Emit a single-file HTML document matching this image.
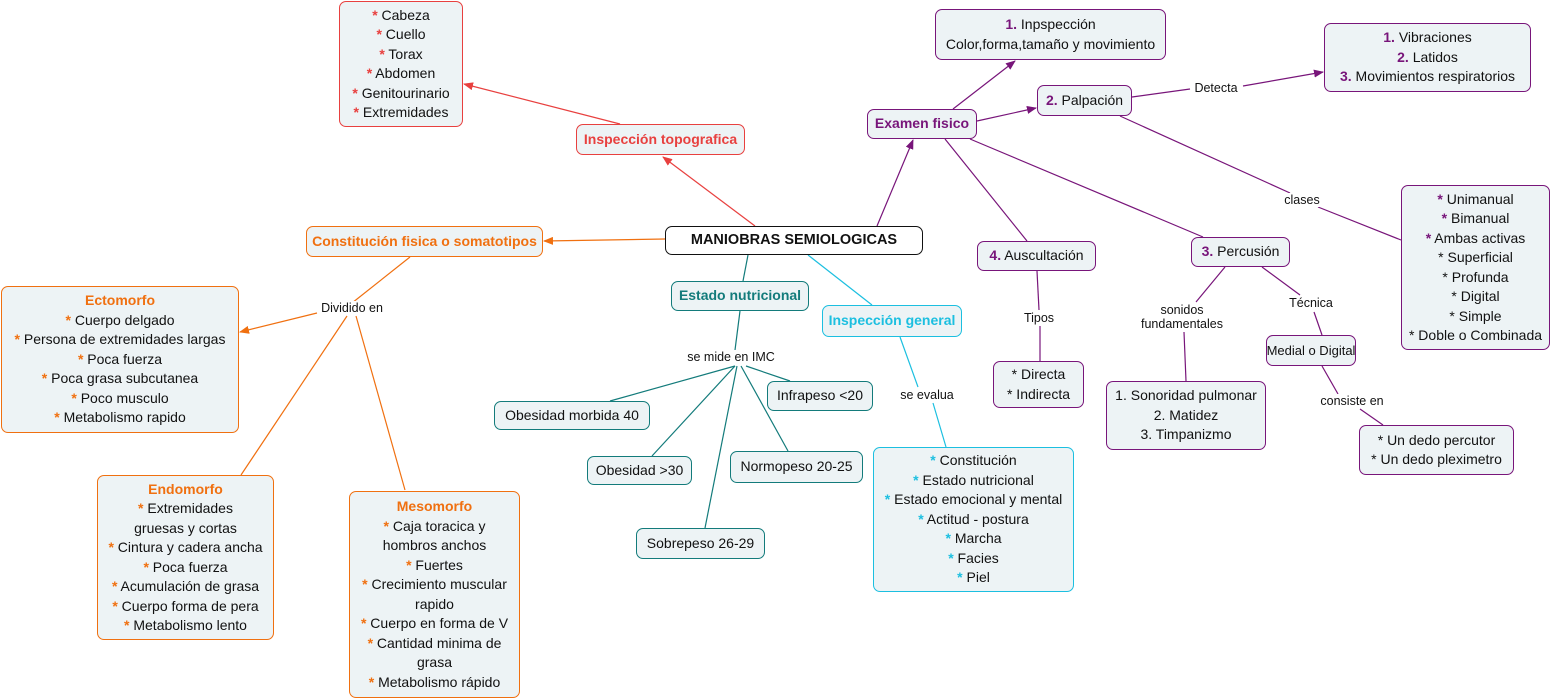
<!DOCTYPE html>
<html><head><meta charset="utf-8"><style>
body{margin:0;width:1552px;height:700px;background:#fff;position:relative;overflow:hidden;font-family:"Liberation Sans",sans-serif;font-size:14px;color:#111}
.n{position:absolute;box-sizing:border-box;background:#edf3f5;border:1px solid;border-radius:7px;display:flex;flex-direction:column;justify-content:center;align-items:center;text-align:center;line-height:19.5px;white-space:nowrap}
.r{border-color:#e8403f}.o{border-color:#f07010}.t{border-color:#137b7b}.c{border-color:#1cbfe0}.p{border-color:#78157a}
.b{font-weight:bold}
.rs{color:#e8403f;font-weight:bold}.os{color:#f07010;font-weight:bold}.cs{color:#1cbfe0;font-weight:bold}.ps{color:#78157a;font-weight:bold}
.l{position:absolute;font-size:12.5px;background:#fff;line-height:14px;text-align:center;white-space:nowrap;transform:translate(-50%,-50%)}
svg{position:absolute;left:0;top:0}
</style></head><body>
<svg width="1552" height="700">
<defs>
<marker id="ar" markerWidth="10" markerHeight="8" refX="9" refY="4" orient="auto" markerUnits="userSpaceOnUse"><path d="M0,0L10,4L0,8z" fill="#e8403f"/></marker>
<marker id="ao" markerWidth="10" markerHeight="8" refX="9" refY="4" orient="auto" markerUnits="userSpaceOnUse"><path d="M0,0L10,4L0,8z" fill="#f07010"/></marker>
<marker id="ap" markerWidth="10" markerHeight="8" refX="9" refY="4" orient="auto" markerUnits="userSpaceOnUse"><path d="M0,0L10,4L0,8z" fill="#78157a"/></marker>
</defs>
<g stroke="#e8403f" stroke-width="1.2" fill="none">
<line x1="755" y1="226" x2="663" y2="157" marker-end="url(#ar)"/>
<line x1="620" y1="124" x2="464" y2="84" marker-end="url(#ar)"/>
</g>
<g stroke="#f07010" stroke-width="1.2" fill="none">
<line x1="665" y1="239" x2="544" y2="241" marker-end="url(#ao)"/>
<line x1="410" y1="257" x2="352" y2="303"/>
<line x1="317" y1="313" x2="240" y2="332" marker-end="url(#ao)"/>
<line x1="347" y1="316" x2="241" y2="475"/>
<line x1="356" y1="316" x2="405" y2="490"/>
</g>
<g stroke="#137b7b" stroke-width="1.2">
<line x1="748" y1="255" x2="743" y2="281"/>
<line x1="740" y1="311" x2="735" y2="350"/>
<line x1="735" y1="366" x2="610" y2="401"/>
<line x1="735" y1="366" x2="652" y2="456"/>
<line x1="737" y1="366" x2="705" y2="528"/>
<line x1="741" y1="366" x2="788" y2="451"/>
<line x1="746" y1="366" x2="790" y2="381"/>
</g>
<g stroke="#1cbfe0" stroke-width="1.2">
<line x1="808" y1="255" x2="872" y2="305"/>
<line x1="900" y1="337" x2="918" y2="387"/>
<line x1="933" y1="403" x2="946" y2="447"/>
</g>
<g stroke="#78157a" stroke-width="1.2" fill="none">
<line x1="877" y1="226" x2="913" y2="140" marker-end="url(#ap)"/>
<line x1="953" y1="109" x2="1015" y2="61" marker-end="url(#ap)"/>
<line x1="977" y1="121" x2="1036" y2="108" marker-end="url(#ap)"/>
<line x1="1132" y1="97" x2="1190" y2="89"/>
<line x1="1243" y1="86" x2="1323" y2="72" marker-end="url(#ap)"/>
<line x1="1120" y1="116" x2="1290" y2="193"/>
<line x1="1318" y1="207" x2="1401" y2="240"/>
<line x1="945" y1="139" x2="1027" y2="241"/>
<line x1="970" y1="139" x2="1203" y2="237"/>
<line x1="1037" y1="271" x2="1039" y2="310"/>
<line x1="1040" y1="326" x2="1040" y2="361"/>
<line x1="1225" y1="267" x2="1196" y2="302"/>
<line x1="1184" y1="332" x2="1186" y2="381"/>
<line x1="1262" y1="267" x2="1300" y2="295"/>
<line x1="1314" y1="312" x2="1322" y2="335"/>
<line x1="1322" y1="366" x2="1338" y2="394"/>
<line x1="1360" y1="409" x2="1383" y2="425"/>
</g>
</svg>

<div class="n r" style="left:339px;top:1px;width:124px;height:126px"><div><span class="rs">*</span> Cabeza</div><div><span class="rs">*</span> Cuello</div><div><span class="rs">*</span> Torax</div><div><span class="rs">*</span> Abdomen</div><div><span class="rs">*</span> Genitourinario</div><div><span class="rs">*</span> Extremidades</div></div>
<div class="n r b rs" style="left:576px;top:124px;width:169px;height:31px">Inspección topografica</div>
<div class="n b" style="left:665px;top:226px;width:258px;height:29px;border-color:#111;background:#fff;font-size:14.5px">MANIOBRAS SEMIOLOGICAS</div>
<div class="n o b os" style="left:306px;top:226px;width:237px;height:31px">Constitución fisica o somatotipos</div>
<div class="n o" style="left:1px;top:286px;width:238px;height:147px"><div class="b os">Ectomorfo</div><div><span class="os">*</span> Cuerpo delgado</div><div><span class="os">*</span> Persona de extremidades largas</div><div><span class="os">*</span> Poca fuerza</div><div><span class="os">*</span> Poca grasa subcutanea</div><div><span class="os">*</span> Poco musculo</div><div><span class="os">*</span> Metabolismo rapido</div></div>
<div class="n o" style="left:97px;top:475px;width:177px;height:165px"><div class="b os">Endomorfo</div><div><span class="os">*</span> Extremidades</div><div>gruesas y cortas</div><div><span class="os">*</span> Cintura y cadera ancha</div><div><span class="os">*</span> Poca fuerza</div><div><span class="os">*</span> Acumulación de grasa</div><div><span class="os">*</span> Cuerpo forma de pera</div><div><span class="os">*</span> Metabolismo lento</div></div>
<div class="n o" style="left:349px;top:491px;width:171px;height:207px"><div class="b os">Mesomorfo</div><div><span class="os">*</span> Caja toracica y</div><div>hombros anchos</div><div><span class="os">*</span> Fuertes</div><div><span class="os">*</span> Crecimiento muscular</div><div>rapido</div><div><span class="os">*</span> Cuerpo en forma de V</div><div><span class="os">*</span> Cantidad minima de</div><div>grasa</div><div><span class="os">*</span> Metabolismo rápido</div></div>
<div class="n t b" style="left:671px;top:281px;width:138px;height:30px;color:#137b7b">Estado nutricional</div>
<div class="n c b cs" style="left:822px;top:305px;width:140px;height:32px">Inspección general</div>
<div class="n t" style="left:494px;top:401px;width:156px;height:29px">Obesidad morbida 40</div>
<div class="n t" style="left:767px;top:381px;width:106px;height:30px">Infrapeso &lt;20</div>
<div class="n t" style="left:587px;top:456px;width:105px;height:29px">Obesidad &gt;30</div>
<div class="n t" style="left:730px;top:451px;width:133px;height:32px">Normopeso 20-25</div>
<div class="n t" style="left:636px;top:528px;width:129px;height:31px">Sobrepeso 26-29</div>
<div class="n c" style="left:873px;top:447px;width:201px;height:145px"><div><span class="cs">*</span> Constitución</div><div><span class="cs">*</span> Estado nutricional</div><div><span class="cs">*</span> Estado emocional y mental</div><div><span class="cs">*</span> Actitud - postura</div><div><span class="cs">*</span> Marcha</div><div><span class="cs">*</span> Facies</div><div><span class="cs">*</span> Piel</div></div>
<div class="n p b ps" style="left:867px;top:109px;width:110px;height:30px">Examen fisico</div>
<div class="n p" style="left:935px;top:9px;width:231px;height:51px"><div><span class="ps">1.</span> Inpspección</div><div>Color,forma,tamaño y movimiento</div></div>
<div class="n p" style="left:1037px;top:85px;width:95px;height:31px"><div><span class="ps">2.</span> Palpación</div></div>
<div class="n p" style="left:1324px;top:23px;width:207px;height:69px"><div><span class="ps">1.</span> Vibraciones</div><div><span class="ps">2.</span> Latidos</div><div><span class="ps">3.</span> Movimientos respiratorios</div></div>
<div class="n p" style="left:1401px;top:185px;width:149px;height:165px"><div><span class="ps">*</span> Unimanual</div><div><span class="ps">*</span> Bimanual</div><div><span class="ps">*</span> Ambas activas</div><div>* Superficial</div><div>* Profunda</div><div>* Digital</div><div>* Simple</div><div>* Doble o Combinada</div></div>
<div class="n p" style="left:977px;top:241px;width:119px;height:30px"><div><span class="ps">4.</span> Auscultación</div></div>
<div class="n p" style="left:1191px;top:237px;width:99px;height:30px"><div><span class="ps">3.</span> Percusión</div></div>
<div class="n p" style="left:993px;top:361px;width:91px;height:47px"><div>* Directa</div><div>* Indirecta</div></div>
<div class="n p" style="left:1106px;top:381px;width:160px;height:69px"><div>1. Sonoridad pulmonar</div><div>2. Matidez</div><div>3. Timpanizmo</div></div>
<div class="n p" style="left:1266px;top:335px;width:90px;height:31px;font-size:13px">Medial o Digital</div>
<div class="n p" style="left:1359px;top:425px;width:155px;height:50px"><div>* Un dedo percutor</div><div>* Un dedo pleximetro</div></div>

<div class="l" style="left:352px;top:308px">Dividido en</div>
<div class="l" style="left:731px;top:357px">se mide en IMC</div>
<div class="l" style="left:927px;top:395px">se evalua</div>
<div class="l" style="left:1039px;top:318px">Tipos</div>
<div class="l" style="left:1182px;top:317px">sonidos<br>fundamentales</div>
<div class="l" style="left:1311px;top:303px">Técnica</div>
<div class="l" style="left:1352px;top:401px">consiste en</div>
<div class="l" style="left:1216px;top:88px">Detecta</div>
<div class="l" style="left:1302px;top:200px">clases</div>
</body></html>
